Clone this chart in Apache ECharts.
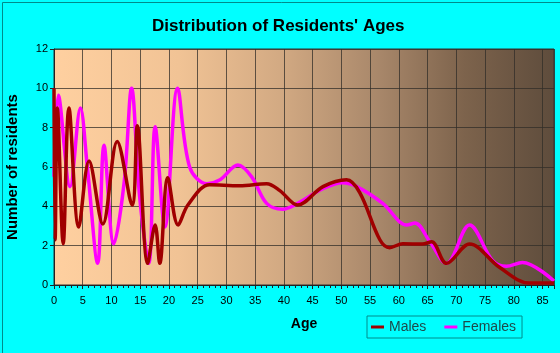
<!DOCTYPE html>
<html>
<head>
<meta charset="utf-8">
<script src="https://cdn.jsdelivr.net/npm/echarts@6/dist/echarts.min.js"></script>
<style>
  html, body { margin: 0; padding: 0; background: #00ffff; }
  #chart { width: 560px; height: 353px; }
</style>
</head>
<body>
<div id="chart"></div>
<script>
// age / number of residents
const malesAge = [0, 0.2, 0.6, 1.6, 2.6, 4.3, 6.1, 8.5, 11, 13.6, 14.5, 16.3, 17.6, 18.4, 19.8, 21.6, 23.3, 27.1, 32.3, 37, 39.3, 42.4, 46.8, 50.9, 53.2, 56.7, 58.4, 60.7, 64.1, 65.7, 68.3, 72.3, 77.5, 82.7, 87];
const malesVal = [10, 2.3, 9, 2.1, 9, 2.95, 6.3, 3.1, 7.3, 4.07, 8.1, 1.1, 3.05, 1.1, 5.45, 3.05, 4.07, 5.1, 5.05, 5.15, 4.8, 4.07, 5.0, 5.35, 4.7, 2.3, 1.9, 2.1, 2.08, 2.2, 1.1, 2.08, 0.9, 0.1, 0.1];
const femalesAge = [0, 0.75, 2.8, 4.6, 5.8, 7.6, 8.7, 10.4, 12.2, 13.5, 14.9, 16.5, 17.6, 19.3, 21.5, 23.6, 26.6, 28.9, 32, 34.4, 37, 39.8, 42.4, 46.8, 50.2, 52.7, 57.2, 61.4, 62.8, 65.4, 68.3, 72.3, 76.3, 78.7, 81.5, 87];
const femalesVal = [5.5, 9.65, 5.0, 9.0, 6.0, 1.1, 7.1, 2.1, 5.2, 10, 4.5, 1.1, 8.05, 2.95, 10, 6.0, 5.15, 5.35, 6.1, 5.5, 4.15, 3.85, 4.15, 4.9, 5.2, 5.0, 4.15, 3.05, 3.15, 2.2, 1.1, 3.05, 1.25, 0.95, 1.15, 0.2];
const xTicks = [0, 5, 10, 15, 20, 25, 30, 35, 40, 45, 50, 55, 60, 65, 70, 75, 80, 85];
const yTicks = [0, 2, 4, 6, 8, 10, 12];

const chart = echarts.init(document.getElementById('chart'));
const pairs = (xs, ys) => xs.map((x, i) => [x, ys[i]]);
const font = 'Liberation Sans, Arial, sans-serif';

chart.setOption({
  backgroundColor: '#00ffff',
  animation: false,
  graphic: [{
    type: 'rect', left: 0, top: 0, z: -1,
    shape: { width: 559, height: 352 },
    style: { fill: 'none', stroke: '#008b8b', lineWidth: 1 }
  }],
  title: {
    text: "Distribution of Residents' Ages",
    left: 147, top: 13,
    textStyle: { fontFamily: font, fontSize: 17, fontWeight: 'bold', color: '#000' }
  },
  legend: {
    left: 367, top: 316,
    data: ['Males', 'Females'],
    itemWidth: 13, itemHeight: 3, itemGap: 18,
    icon: 'rect',
    borderColor: '#008b8b', borderWidth: 1,
    padding: [4, 6, 4, 4],
    textStyle: { fontFamily: font, fontSize: 14, color: '#1e4a4a' }
  },
  grid: {
    left: 54, right: 6, top: 49, bottom: 68,
    outerBoundsMode: 'none',
    containLabel: false,
    show: true,
    borderColor: '#333', borderWidth: 1,
    backgroundColor: new echarts.graphic.LinearGradient(0, 0, 1, 0, [
      { offset: 0, color: '#ffd0a0' },
      { offset: 0.25, color: '#f1c395' },
      { offset: 0.45, color: '#d3aa83' },
      { offset: 0.65, color: '#a8876a' },
      { offset: 0.82, color: '#7d634c' },
      { offset: 1, color: '#5e4c3c' }
    ])
  },
  xAxis: {
    type: 'value', min: 0, max: 87, interval: 5,
    name: 'Age', nameLocation: 'middle', nameGap: 32,
    nameTextStyle: { fontFamily: font, fontSize: 14, fontWeight: 'bold', color: '#000' },
    axisLine: { show: true, lineStyle: { color: '#222' } },
    axisTick: { show: true, length: 4, lineStyle: { color: '#222' } },
    minorTick: { show: true, splitNumber: 5, length: 3, lineStyle: { color: '#222' } },
    axisLabel: {
      fontFamily: font, fontSize: 11, color: '#000', margin: 10,
      formatter: v => xTicks.includes(v) ? String(v) : ''
    },
    splitLine: { show: true, lineStyle: { color: 'rgba(50,45,40,0.75)', width: 1 } }
  },
  yAxis: {
    type: 'value', min: 0, max: 12, interval: 2,
    name: 'Number of residents', nameLocation: 'middle', nameGap: 34,
    nameTextStyle: { fontFamily: font, fontSize: 15, fontWeight: 'bold', color: '#000' },
    axisLine: { show: true, lineStyle: { color: '#222' } },
    axisTick: { show: true, length: 4, lineStyle: { color: '#222' } },
    axisLabel: {
      fontFamily: font, fontSize: 11, color: '#000', margin: 6,
      formatter: v => yTicks.includes(v) ? String(v) : ''
    },
    splitLine: { show: true, lineStyle: { color: 'rgba(50,45,40,0.75)', width: 1 } }
  },
  series: [
    {
      name: 'Males', type: 'line', smooth: 0.35, symbol: 'none',
      data: pairs(malesAge, malesVal),
      lineStyle: { color: '#a00000', width: 3.5 },
      itemStyle: { color: '#a00000' }, z: 3
    },
    {
      name: 'Females', type: 'line', smooth: 0.35, symbol: 'none',
      data: pairs(femalesAge, femalesVal),
      lineStyle: { color: '#ff00ff', width: 3.5 },
      itemStyle: { color: '#ff00ff' }, z: 2
    }
  ]
});
</script>
</body>
</html>
